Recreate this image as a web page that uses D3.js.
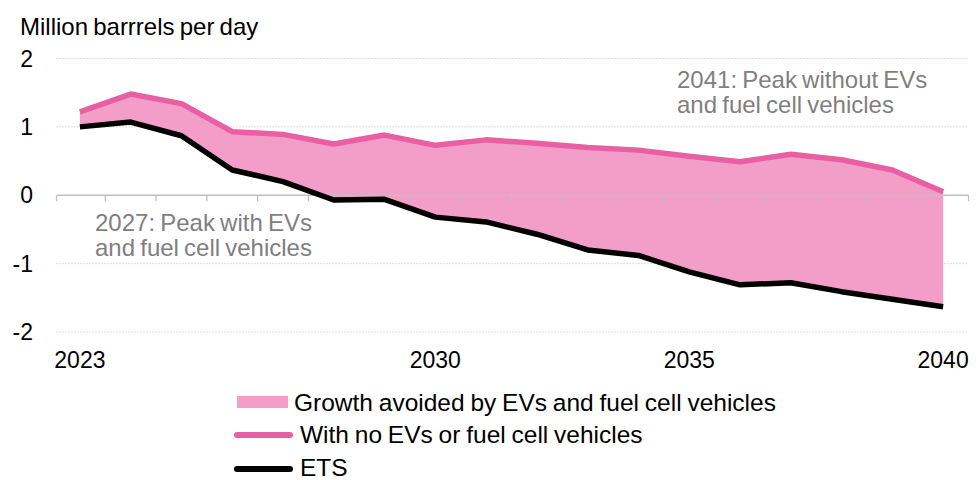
<!DOCTYPE html>
<html>
<head>
<meta charset="utf-8">
<script src="https://cdn.jsdelivr.net/npm/d3@7"></script>
<style>
  body { margin: 0; background: #fff; }
  svg text { font-family: "Liberation Sans", Arial, sans-serif; }
</style>
</head>
<body>
<svg width="978" height="480"></svg>
<script>
// data
var years = [2023, 2024, 2025, 2026, 2027, 2028, 2029, 2030, 2031, 2032, 2033, 2034, 2035, 2036, 2037, 2038, 2039, 2040];
var noEVs = [1.22, 1.48, 1.34, 0.93, 0.89, 0.75, 0.88, 0.73, 0.81, 0.76, 0.70, 0.66, 0.57, 0.49, 0.60, 0.52, 0.37, 0.05];
var ets = [1.00, 1.07, 0.87, 0.37, 0.20, -0.07, -0.06, -0.32, -0.39, -0.57, -0.80, -0.88, -1.12, -1.31, -1.28, -1.41, -1.52, -1.63];
var yTicks = [2, 1, 0, -1, -2];
var xLabels = [2023, 2030, 2035, 2040];
var legendItems = ["Growth avoided by EVs and fuel cell vehicles", "With no EVs or fuel cell vehicles", "ETS"];

var fillColor = "#f29ec8", pinkLine = "#e85fa4", grey = "#bfbfbf", noteGrey = "#7f7f7f";

var svg = d3.select("svg");

var x = d3.scaleBand().domain(years).range([54.5, 968.5]);
var cx = function (yr) { return x(yr) + x.bandwidth() / 2; };
var y = d3.scaleLinear().domain([-2, 2]).range([332, 58.5]);

var rows = years.map(function (yr, i) { return { year: yr, hi: noEVs[i], lo: ets[i] }; });

// title
svg.append("text")
    .attr("x", 20).attr("y", 35)
    .attr("font-size", 24).attr("word-spacing", -1.5)
    .text("Million barrrels per day");

// gridlines (dotted), not on zero
svg.append("g").selectAll("line")
    .data(yTicks.filter(function (d) { return d !== 0; }))
    .join("line")
    .attr("x1", 56.5).attr("x2", 968.5)
    .attr("y1", function (d) { return y(d); }).attr("y2", function (d) { return y(d); })
    .attr("stroke", grey).attr("stroke-width", 1).attr("stroke-dasharray", "1,2");

// y labels
svg.append("g").selectAll("text")
    .data(yTicks)
    .join("text")
    .attr("x", 33).attr("y", function (d) { return y(d); })
    .attr("dy", "0.35em").attr("text-anchor", "end")
    .attr("font-size", 23)
    .text(function (d) { return d < 0 ? "-" + Math.abs(d) : d; });

// area between lines
var area = d3.area()
    .x(function (d) { return cx(d.year); })
    .y0(function (d) { return y(d.lo); })
    .y1(function (d) { return y(d.hi); });

svg.append("path").datum(rows)
    .attr("d", area)
    .attr("fill", fillColor);

// x axis on zero line, ticks between categories
var xAxis = svg.append("g").attr("transform", "translate(0," + y(0) + ")");
xAxis.append("line")
    .attr("x1", 56.5).attr("x2", 968.5)
    .attr("stroke", grey).attr("stroke-width", 1.3);
var tickPos = years.map(function (yr) { return x(yr); }).concat([x.range()[1]]);
tickPos[0] = 56.5;
xAxis.selectAll("line.tick")
    .data(tickPos)
    .join("line").attr("class", "tick")
    .attr("x1", function (d) { return d; }).attr("x2", function (d) { return d; })
    .attr("y1", 0).attr("y2", 6)
    .attr("stroke", grey).attr("stroke-width", 1.3);

svg.append("g").selectAll("text")
    .data(xLabels)
    .join("text")
    .attr("x", function (d) { return cx(d); }).attr("y", 368)
    .attr("text-anchor", "middle").attr("font-size", 23)
    .text(function (d) { return d; });

// lines
var lineHi = d3.line().x(function (d) { return cx(d.year); }).y(function (d) { return y(d.hi); });
var lineLo = d3.line().x(function (d) { return cx(d.year); }).y(function (d) { return y(d.lo); });

svg.append("path").datum(rows)
    .attr("d", lineHi)
    .attr("fill", "none").attr("stroke", pinkLine).attr("stroke-width", 5.5)
    .attr("stroke-linejoin", "round");

svg.append("path").datum(rows)
    .attr("d", lineLo)
    .attr("fill", "none").attr("stroke", "#000").attr("stroke-width", 5.5)
    .attr("stroke-linejoin", "round");

// annotations
function note(xp, yp, lines) {
    var t = svg.append("text")
        .attr("x", xp).attr("y", yp)
        .attr("font-size", 24).attr("word-spacing", -1.5)
        .attr("fill", noteGrey);
    lines.forEach(function (l, i) {
        t.append("tspan").attr("x", xp).attr("dy", i === 0 ? 0 : 24.5).text(l);
    });
}
note(95, 231, ["2027: Peak with EVs", "and fuel cell vehicles"]);
note(677, 88, ["2041: Peak without EVs", "and fuel cell vehicles"]);

// legend
var legend = svg.append("g");
legend.append("rect")
    .attr("x", 237).attr("y", 396).attr("width", 51).attr("height", 12)
    .attr("fill", fillColor);
legend.append("line")
    .attr("x1", 237).attr("x2", 290).attr("y1", 435).attr("y2", 435)
    .attr("stroke", pinkLine).attr("stroke-width", 6).attr("stroke-linecap", "round");
legend.append("line")
    .attr("x1", 237).attr("x2", 290).attr("y1", 469).attr("y2", 469)
    .attr("stroke", "#000").attr("stroke-width", 6).attr("stroke-linecap", "round");
var legX = [294, 300, 300], legY = [411, 443, 476];
legend.selectAll("text")
    .data(legendItems)
    .join("text")
    .attr("x", function (d, i) { return legX[i]; })
    .attr("y", function (d, i) { return legY[i]; })
    .attr("font-size", 24.5).attr("word-spacing", -1)
    .text(function (d) { return d; });
</script>
</body>
</html>
